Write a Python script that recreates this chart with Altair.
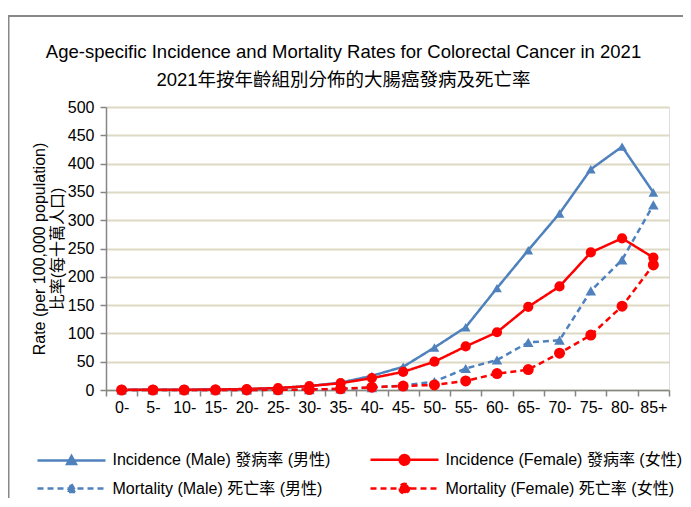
import altair as alt
import pandas as pd

ages = ["0-", "5-", "10-", "15-", "20-", "25-", "30-", "35-", "40-", "45-",
        "50-", "55-", "60-", "65-", "70-", "75-", "80-", "85+"]
series_names = ["Incidence (Male) 發病率 (男性)", "Incidence (Female) 發病率 (女性)",
                "Mortality (Male) 死亡率 (男性)", "Mortality (Female) 死亡率 (女性)"]
inc_male = [0.2, 0.3, 0.5, 0.8, 1.5, 3.5, 7, 13, 25, 41, 75, 111, 180, 247, 312, 390, 430, 349]
inc_female = [0.2, 0.3, 0.5, 0.9, 1.8, 3.5, 7, 12, 21, 32, 50, 77, 102, 147, 183, 243, 268, 234]
mort_male = [0, 0, 0, 0, 0.1, 0.3, 0.8, 2, 4, 8, 15, 38, 53, 84, 88, 175, 230, 327]
mort_female = [0, 0, 0, 0, 0.1, 0.3, 0.8, 2, 5, 7, 9, 16, 29, 36, 65, 97, 148, 221]
y_ticks = list(range(0, 501, 50))

colors = ["#4F81BD", "#FF0000", "#4F81BD", "#FF0000"]
dashes = [[1, 0], [1, 0], [6, 4], [6, 4]]
shapes = ["triangle-up", "circle", "triangle-up", "circle"]
sizes = [95, 121, 95, 121]
# legend entries fill column by column: left column = male, right column = female
legend_order = [series_names[0], series_names[2], series_names[1], series_names[3]]

FONT = "Liberation Sans, Noto Sans CJK TC, sans-serif"
AXIS_GREY = "#868686"
GRID = "#DDD9C3"

rows = []
for name, vals in zip(series_names, [inc_male, inc_female, mort_male, mort_female]):
    for a, v in zip(ages, vals):
        rows.append({"age": a, "series": name, "marker": name, "value": v})
df = pd.DataFrame(rows)

# legend symbols: a line with a marker in the middle (unit = 8px with symbolSize 256)
tri_path = "M-4.25,0L4.25,0M0,-0.55L0.55,0.45L-0.55,0.45Z"
circ_path = "M-4.25,0L4.25,0M-0.6,0A0.6,0.6,0,1,0,0.6,0A0.6,0.6,0,1,0,-0.6,0Z"
male_names = [n for n, s in zip(series_names, shapes) if s == "triangle-up"]
dashed_names = [n for n, d in zip(series_names, dashes) if d != [1, 0]]
is_male = "(" + " || ".join(f"datum.value == '{n}'" for n in male_names) + ")"
is_dashed = "(" + " || ".join(f"datum.value == '{n}'" for n in dashed_names) + ")"
shape_expr = f"{is_male} ? '{tri_path}' : '{circ_path}'"
dash_expr = f"{is_dashed} ? [6, 4] : [1, 0]"
color_expr = f"{is_male} ? '{colors[0]}' : '{colors[1]}'"

x_enc = alt.X("age:N", sort=ages,
              scale=alt.Scale(type="band", domain=ages, paddingInner=0, paddingOuter=0),
              axis=alt.Axis(title=None, labelAngle=0, tickBand="extent", grid=False,
                            labelFont=FONT, labelFontSize=16, labelColor="black",
                            domainColor=AXIS_GREY, domainWidth=1.5, tickColor=AXIS_GREY,
                            tickWidth=1.5, tickSize=6, labelPadding=3))
y_enc = alt.Y("value:Q", scale=alt.Scale(domain=[0, 500], nice=False),
              axis=alt.Axis(values=y_ticks, title=["Rate (per 100,000 population)", "比率(每十萬人口)"],
                            titleFont=FONT, titleFontSize=16, titleFontWeight="normal",
                            titleColor="black", titlePadding=2, titleLineHeight=18,
                            labelFont=FONT, labelFontSize=16, labelColor="black",
                            domainColor=AXIS_GREY, domainWidth=1.5, tickColor=AXIS_GREY,
                            tickWidth=1.5, tickSize=6, labelPadding=6,
                            gridColor=GRID, gridWidth=2))

lines = alt.Chart(df).mark_line(strokeWidth=2.5).encode(
    x=x_enc, y=y_enc,
    color=alt.Color("series:N", scale=alt.Scale(domain=series_names, range=colors),
                    sort=series_names,
                    legend=alt.Legend(title=None, orient="none", legendX=-44, legendY=343,
                                      columns=2, values=legend_order,
                                      labelFont=FONT, labelFontSize=16,
                                      labelColor="black", symbolSize=256,
                                      symbolStrokeWidth=2.5, labelOffset=31.5,
                                      columnPadding=34, rowPadding=8, labelLimit=400,
                                      symbolType=alt.ExprRef(expr=shape_expr),
                                      symbolDash=alt.ExprRef(expr=dash_expr),
                                      symbolStrokeColor=alt.ExprRef(expr=color_expr),
                                      symbolFillColor=alt.ExprRef(expr=color_expr))),
    strokeDash=alt.StrokeDash("series:N", scale=alt.Scale(domain=series_names, range=dashes),
                              sort=series_names, legend=None),
)

points = alt.Chart(df).mark_point(filled=True, opacity=1).encode(
    x=x_enc, y=y_enc,
    color=alt.Color("marker:N", scale=alt.Scale(domain=series_names, range=colors), legend=None),
    shape=alt.Shape("marker:N", scale=alt.Scale(domain=series_names, range=shapes), legend=None),
    size=alt.Size("marker:N", scale=alt.Scale(domain=series_names, range=sizes), legend=None),
)

frame = alt.Chart(pd.DataFrame({"k": [0]})).mark_rect(
    filled=False, stroke="#888888", strokeWidth=2
).encode(x=alt.value(-97.5), x2=alt.value(800), y=alt.value(-91), y2=alt.value(600))

chart = alt.layer(frame, lines, points).resolve_scale(
    color="independent", shape="independent", size="independent"
).resolve_legend(color="independent").properties(
    width=563, height=283,
    autosize=alt.AutoSizeParams(type="none"),
    padding={"left": 98, "top": 99, "right": 14, "bottom": 108},
    title=alt.TitleParams(
        text=["Age-specific Incidence and Mortality Rates for Colorectal Cancer in 2021",
              "2021年按年齡組別分佈的大腸癌發病及死亡率"],
        font=FONT, fontSize=18.5, fontWeight="normal", color="black",
        lineHeight=28, offset=16, dx=-44, dy=90, anchor="middle"),
).configure_view(stroke=None).configure(background="white")

chart.save("out.html", embed_options={"renderer": "svg", "actions": False})
